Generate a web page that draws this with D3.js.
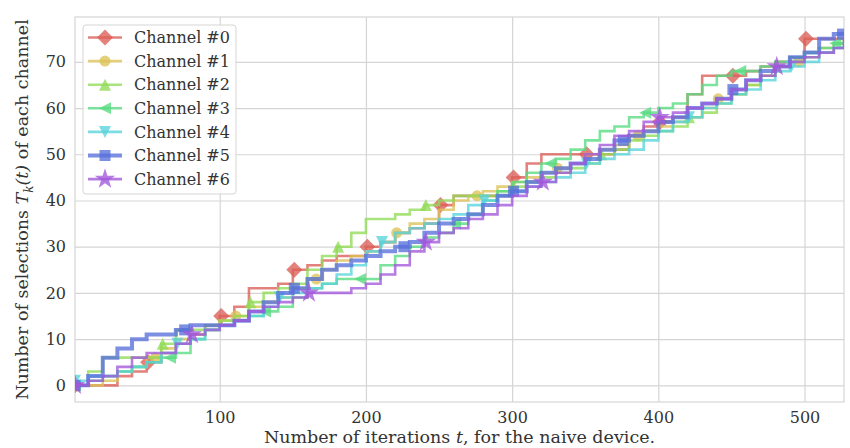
<!DOCTYPE html>
<html>
<head>
<meta charset="utf-8">
<script src="https://cdn.jsdelivr.net/npm/d3@7"></script>
<style>
  body { margin: 0; background: #fff; }
  svg { display: block; font-family: 'DejaVu Serif', serif; }
</style>
</head>
<body>
<svg width="850" height="448"></svg>
<script>
const iterations = [1, 10, 20, 30, 40, 50, 60, 70, 80, 90, 100, 110, 120, 130, 140, 150, 160, 170, 180, 190,
  200, 210, 220, 230, 240, 250, 260, 270, 280, 290, 300, 310, 320, 330, 340, 350, 360, 370, 380, 390,
  400, 410, 420, 430, 440, 450, 460, 470, 480, 490, 500, 510, 520, 527];

const channel0 = [0, 0, 0, 2, 3, 5, 7, 9, 11, 13, 15, 17, 21, 21, 22, 25, 26, 27, 28, 28,
  30, 31, 33, 34, 35, 39, 41, 41, 41, 41, 45, 48, 50, 50, 50, 50, 50, 51, 54, 56,
  57, 58, 63, 67, 67, 67, 68, 69, 70, 71, 75, 75, 75, 75];
const channel1 = [0, 0, 1, 3, 4, 6, 8, 10, 11, 12, 14, 15, 17, 18, 19, 21, 23, 25, 27, 28,
  29, 31, 33, 35, 36, 38, 40, 41, 42, 43, 44, 45, 46, 47, 48, 50, 51, 52, 54, 55,
  56, 57, 58, 60, 62, 63, 65, 67, 69, 70, 72, 73, 74, 75];
const channel2 = [0, 3, 6, 6, 6, 6, 9, 12, 12, 13, 14, 15, 18, 20, 21, 22, 25, 28, 30, 33,
  36, 36, 37, 38, 39, 40, 41, 41, 41, 42, 43, 44, 45, 46, 47, 48, 50, 51, 53, 54,
  55, 56, 58, 59, 61, 63, 65, 67, 69, 70, 71, 72, 73, 75];
const channel3 = [0, 1, 2, 3, 4, 5, 6, 7, 10, 12, 13, 14, 15, 16, 17, 19, 21, 22, 23, 23,
  23, 26, 28, 30, 32, 33, 35, 37, 40, 42, 44, 46, 48, 49, 51, 53, 55, 56, 58, 59,
  60, 61, 63, 65, 67, 68, 68, 69, 70, 71, 72, 73, 74, 75];
const channel4 = [1, 2, 2, 3, 4, 5, 7, 9, 10, 12, 13, 14, 15, 17, 19, 20, 21, 22, 24, 26,
  29, 31, 33, 34, 35, 36, 37, 39, 40, 41, 42, 43, 44, 45, 46, 48, 49, 50, 51, 53,
  55, 57, 58, 60, 61, 63, 64, 66, 68, 69, 70, 72, 73, 74];
const channel5 = [0, 2, 6, 8, 10, 11, 11, 12, 13, 13, 13, 14, 16, 18, 20, 21, 23, 25, 26, 27,
  28, 29, 30, 31, 33, 35, 36, 37, 39, 41, 42, 44, 46, 47, 48, 49, 51, 53, 54, 55,
  57, 58, 60, 61, 62, 64, 66, 68, 69, 71, 72, 75, 76, 76];
const channel6 = [0, 1, 2, 4, 6, 7, 7, 9, 11, 12, 13, 14, 16, 17, 18, 19, 20, 20, 20, 21,
  22, 24, 26, 29, 31, 33, 34, 36, 37, 39, 41, 43, 44, 46, 48, 50, 52, 54, 55, 57,
  58, 59, 60, 61, 62, 64, 66, 67, 69, 70, 71, 72, 73, 75];

const channelNames = ['Channel #0', 'Channel #1', 'Channel #2', 'Channel #3', 'Channel #4', 'Channel #5', 'Channel #6'];
const channelColors = ['#db5f57', '#dbc257', '#91db57', '#57db80', '#57d3db', '#5770db', '#a157db'];
const channelMarkers = ['diamond', 'circle', 'triangleUp', 'triangleLeft', 'triangleDown', 'square', 'star'];
const markEvery = [50, 55, 60, 65, 70, 75, 80];
const xTicks = [100, 200, 300, 400, 500];
const yTicks = [0, 10, 20, 30, 40, 50, 60, 70];

const allChannels = [channel0, channel1, channel2, channel3, channel4, channel5, channel6];

const svg = d3.select('svg');
const width = +svg.attr('width');
const height = +svg.attr('height');
const margin = { top: 17, right: 6, bottom: 46, left: 75 };
const innerW = width - margin.left - margin.right;
const innerH = height - margin.top - margin.bottom;

const x = d3.scaleLinear().domain([1, 527]).range([0, innerW]);
const y = d3.scaleLinear().domain([-3.6, 79.7]).range([innerH, 0]);

const g = svg.append('g')
  .attr('transform', `translate(${margin.left},${margin.top})`);

// grid
g.append('g')
  .attr('transform', `translate(0,${innerH})`)
  .call(d3.axisBottom(x).tickValues(xTicks).tickSize(-innerH).tickFormat(''))
  .call(s => s.select('.domain').remove())
  .call(s => s.selectAll('line').attr('stroke', '#d5d5d5').attr('stroke-width', 1.2));
g.append('g')
  .call(d3.axisLeft(y).tickValues(yTicks).tickSize(-innerW).tickFormat(''))
  .call(s => s.select('.domain').remove())
  .call(s => s.selectAll('line').attr('stroke', '#d5d5d5').attr('stroke-width', 1.2));

// tick labels
g.append('g')
  .attr('transform', `translate(0,${innerH})`)
  .call(d3.axisBottom(x).tickValues(xTicks).tickSize(0).tickPadding(10))
  .call(s => s.select('.domain').remove())
  .call(s => s.selectAll('text').attr('font-family', 'DejaVu Serif').attr('font-size', 16).attr('fill', '#333'));
g.append('g')
  .call(d3.axisLeft(y).tickValues(yTicks).tickSize(0).tickPadding(9))
  .call(s => s.select('.domain').remove())
  .call(s => s.selectAll('text').attr('font-family', 'DejaVu Serif').attr('font-size', 16).attr('fill', '#333'));

// frame
g.append('rect')
  .attr('width', innerW).attr('height', innerH)
  .attr('fill', 'none').attr('stroke', '#d5d5d5').attr('stroke-width', 1.2);

g.append('clipPath').attr('id', 'plotClip')
  .append('rect').attr('width', innerW).attr('height', innerH);

function markerPath(kind) {
  if (kind === 'diamond') return 'M0,-8L8,0L0,8L-8,0Z';
  if (kind === 'circle') return d3.symbol(d3.symbolCircle, 95)();
  if (kind === 'triangleUp') return 'M0,-6L6,6L-6,6Z';
  if (kind === 'triangleLeft') return 'M-6,0L6,-6L6,6Z';
  if (kind === 'triangleDown') return 'M0,6L6,-6L-6,-6Z';
  if (kind === 'square') return 'M-5.5,-5.5H5.5V5.5H-5.5Z';
  return d3.symbol(d3.symbolStar, 130)();
}

const line = d3.line()
  .x(d => x(d[0]))
  .y(d => y(d[1]))
  .curve(d3.curveStepAfter);

const plot = g.append('g').attr('clip-path', 'url(#plotClip)');

allChannels.forEach((values, k) => {
  const pts = iterations.map((t, i) => [t, values[i]]);
  plot.append('path')
    .attr('d', line(pts))
    .attr('fill', 'none')
    .attr('stroke', channelColors[k])
    .attr('stroke-opacity', 0.78)
    .attr('stroke-width', k === 5 ? 4 : 2.6)
    .attr('stroke-linejoin', 'miter');

  const marks = d3.range(1, 528, markEvery[k]).map(t => {
    const i = d3.bisectRight(iterations, t) - 1;
    return [t, values[i]];
  });
  plot.selectAll(null)
    .data(marks)
    .join('path')
    .attr('d', markerPath(channelMarkers[k]))
    .attr('transform', d => `translate(${x(d[0])},${y(d[1])})`)
    .attr('fill', channelColors[k])
    .attr('fill-opacity', 0.78);
});

// legend
const legend = svg.append('g').attr('transform', 'translate(83,25)');
legend.append('rect')
  .attr('width', 153).attr('height', 169).attr('rx', 3)
  .attr('fill', '#fff').attr('fill-opacity', 0.85)
  .attr('stroke', '#d5d5d5');
channelNames.forEach((name, k) => {
  const row = legend.append('g').attr('transform', `translate(0,${12.5 + k * 23.6})`);
  row.append('line')
    .attr('x1', 5).attr('x2', 39)
    .attr('stroke', channelColors[k])
    .attr('stroke-opacity', 0.78)
    .attr('stroke-width', k === 5 ? 4 : 2.6);
  row.append('path')
    .attr('d', markerPath(channelMarkers[k]))
    .attr('transform', 'translate(22,0)')
    .attr('fill', channelColors[k])
    .attr('fill-opacity', 0.78);
  row.append('text')
    .attr('x', 51).attr('dy', '0.35em')
    .attr('font-size', 16).attr('fill', '#333')
    .text(name);
});

// axis titles
const xTitle = svg.append('text')
  .attr('x', margin.left + innerW / 2).attr('y', 443)
  .attr('text-anchor', 'middle')
  .attr('font-size', 17.5).attr('fill', '#333');
xTitle.append('tspan').text('Number of iterations ');
xTitle.append('tspan').attr('font-style', 'italic').text('t');
xTitle.append('tspan').text(', for the naive device.');

const yTitle = svg.append('text')
  .attr('transform', `translate(28,${margin.top + innerH / 2}) rotate(-90)`)
  .attr('text-anchor', 'middle')
  .attr('font-size', 17.5).attr('fill', '#333');
yTitle.append('tspan').text('Number of selections ');
yTitle.append('tspan').attr('font-style', 'italic').text('T');
yTitle.append('tspan').attr('font-style', 'italic').attr('font-size', 12).attr('dy', 4.5).text('k');
yTitle.append('tspan').attr('font-style', 'italic').attr('dy', -4.5).text('(t)');
yTitle.append('tspan').text(' of each channel');
</script>
</body>
</html>
